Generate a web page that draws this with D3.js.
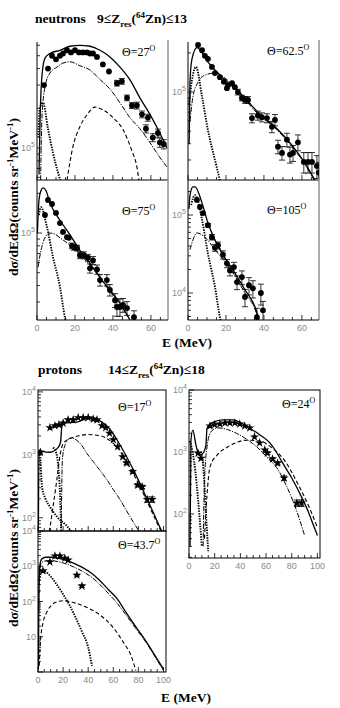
<!DOCTYPE html>
<html>
<head>
<meta charset="utf-8">
<script src="https://cdn.jsdelivr.net/npm/d3@7"></script>
<style>
  body { margin: 0; background: #fff; }
  svg { display: block; }
  .serif { font-family: "Liberation Serif", "Times New Roman", serif; }
  .bold { font-weight: bold; }
  .tk { font-family: "Liberation Sans", Arial, sans-serif; font-size: 9px; fill: #8a8a8a; }
</style>
</head>
<body>
<svg id="fig" width="340" height="708"></svg>
<script>
// ---- data: [E (MeV), dsigma/dEdOmega, relative error] ----
var n27Data = [
  [3.7, 3.0e5, 0.04], [5.8, 4.0e5, 0.03], [7.9, 5.0e5, 0.03], [10, 4.7e5, 0.03], [12.1, 5.0e5, 0.03],
  [13.7, 5.2e5, 0.03], [15.8, 5.5e5, 0.03], [17.9, 5.3e5, 0.03], [20, 5.5e5, 0.03], [22.1, 5.3e5, 0.03],
  [24.2, 5.3e5, 0.03], [26.3, 5.3e5, 0.03], [27.9, 5.2e5, 0.03], [29.5, 5.2e5, 0.03], [31.6, 4.9e5, 0.03],
  [34.7, 4.3e5, 0.04], [37.9, 3.8e5, 0.04], [42.1, 3.1e5, 0.05], [44.7, 3.2e5, 0.05], [47.4, 2.4e5, 0.05],
  [50, 2.1e5, 0.05], [52.6, 2.1e5, 0.06], [55.3, 1.8e5, 0.06], [58.4, 1.7e5, 0.06], [57.4, 1.4e5, 0.07],
  [61, 1.2e5, 0.07], [63.7, 1.3e5, 0.07], [64.7, 1.1e5, 0.08], [66.8, 1.07e5, 0.08]
];
var n27Total = [[1.05, 6.3e4], [1.6, 1.6e5], [2.6, 3.5e5], [4.2, 4.8e5], [6.8, 5.2e5], [12.1, 5.5e5],
  [17.4, 5.9e5], [22.6, 6.0e5], [27.9, 5.9e5], [33.2, 5.5e5], [38.4, 4.9e5], [43.7, 4.1e5],
  [48.9, 3.3e5], [54.2, 2.4e5], [59.5, 1.8e5], [64.7, 1.3e5], [68.4, 1.0e5]];
var n27PreEq = [[1.9, 5.7e4], [2.6, 1.7e5], [4.2, 2.9e5], [6.8, 3.7e5], [10.5, 4.1e5], [13.7, 4.4e5],
  [17.4, 4.5e5], [22.6, 4.2e5], [27.9, 3.9e5], [33.2, 3.3e5], [38.4, 2.8e5], [43.7, 2.2e5],
  [48.9, 1.7e5], [54.2, 1.4e5], [59.5, 1.1e5], [64.7, 8.5e4], [68.4, 7.2e4]];
var n27Evap = [[0.7, 1.2e5], [1.5, 2.0e5], [3.2, 2.2e5], [5.8, 1.4e5], [8.4, 9.2e4], [11.1, 6.5e4], [12.4, 5.6e4]];
var n27Dashed = [[15.8, 5.7e4], [18.9, 1.02e5], [22.6, 1.45e5], [26.3, 1.78e5], [30.5, 2.04e5], [34.7, 1.95e5],
  [40, 1.7e5], [45.3, 1.38e5], [50, 9.5e4], [52.6, 7.2e4], [53.7, 5.7e4]];

var n62Data = [
  [5.3, 2.3e5, 0.03], [7.4, 2.1e5, 0.03], [8.9, 1.9e5, 0.03], [10.5, 1.8e5, 0.03], [12.6, 1.56e5, 0.03],
  [14.2, 1.4e5, 0.03], [16.8, 1.3e5, 0.03], [18.9, 1.2e5, 0.03], [21.1, 1.13e5, 0.04], [20.5, 1.07e5, 0.04],
  [23.2, 1.17e5, 0.04], [24.7, 1.09e5, 0.04], [26.3, 1.0e5, 0.05], [28.4, 9.0e4, 0.05], [30, 8.7e4, 0.06],
  [31.6, 8.7e4, 0.06], [33.7, 6.3e4, 0.08], [36.8, 6.6e4, 0.08], [38.9, 6.4e4, 0.08], [41.6, 6.3e4, 0.08],
  [44.2, 5.4e4, 0.1], [45.8, 6.1e4, 0.1], [47.4, 3.8e4, 0.12], [49.5, 3.4e4, 0.12], [52.1, 4.3e4, 0.12],
  [53.7, 3.3e4, 0.14], [55.3, 3.4e4, 0.14], [57.9, 4.1e4, 0.14], [61, 2.9e4, 0.18], [63.2, 2.9e4, 0.18],
  [65.3, 2.9e4, 0.18], [67.9, 2.7e4, 0.2], [68.9, 2.4e4, 0.2]
];
var n62Total = [[0.6, 4.0e4], [1.05, 1.2e5], [2.1, 1.8e5], [4.7, 2.2e5], [10.5, 1.7e5], [19.5, 1.24e5],
  [28.4, 9.5e4], [36.8, 7.0e4], [45.8, 5.4e4], [54.7, 3.9e4], [63.2, 2.6e4], [66.8, 2.1e4]];
var n62PreEq = [[1.05, 6.0e4], [2.6, 9.2e4], [5.3, 1.19e5], [8.9, 1.35e5], [14.2, 1.4e5], [19.5, 1.28e5],
  [28.4, 9.3e4], [36.8, 6.8e4], [45.8, 5.3e4], [54.7, 3.8e4], [63.2, 2.55e4], [66.8, 2.05e4]];
var n62Evap = [[0.5, 8.0e4], [2.1, 1.24e5], [4.2, 1.56e5], [7.4, 9.2e4], [10.5, 5.1e4], [14.2, 3.0e4], [16.8, 2.1e4]];

var n75Data = [
  [4.2, 1.37e5, 0.03], [5.8, 1.78e5, 0.03], [7.9, 1.66e5, 0.03], [10, 1.42e5, 0.03], [12.1, 1.19e5, 0.03],
  [13.7, 1.02e5, 0.04], [15.8, 9.3e4, 0.04], [16.8, 9.2e4, 0.04], [18.4, 8.0e4, 0.05], [19.5, 7.8e4, 0.05],
  [21.1, 7.7e4, 0.05], [22.6, 6.8e4, 0.06], [24.7, 6.8e4, 0.06], [26.8, 6.5e4, 0.06], [27.9, 5.4e4, 0.08],
  [29.5, 6.2e4, 0.07], [31.6, 5.3e4, 0.08], [33.2, 4.4e4, 0.1], [36.8, 4.4e4, 0.1], [38.4, 3.7e4, 0.1],
  [41.1, 3.1e4, 0.12], [42.1, 2.75e4, 0.15], [43.7, 2.75e4, 0.15], [45.3, 2.85e4, 0.12], [47.4, 2.7e4, 0.12],
  [51.1, 2.3e4, 0.12]
];
var n75Total = [[0.2, 1.0e5], [1.05, 1.78e5], [2.1, 2.1e5], [3.2, 2.2e5], [4.7, 2.1e5], [6.8, 1.7e5],
  [12.1, 1.25e5], [17.4, 9.7e4], [22.6, 7.4e4], [27.9, 5.9e4], [33.2, 4.6e4], [38.4, 3.7e4],
  [43.7, 2.95e4], [48.9, 2.2e4]];
var n75PreEq = [[0.5, 5.5e4], [2.1, 7.4e4], [3.7, 8.9e4], [6.8, 1.0e5], [9.5, 9.8e4], [12.1, 9.2e4],
  [17.4, 8.1e4], [22.6, 6.9e4], [27.9, 5.7e4], [33.2, 4.6e4], [38.4, 3.6e4], [43.7, 2.9e4], [48.9, 2.2e4]];
var n75Evap = [[1, 1.37e5], [2.1, 1.57e5], [5.3, 1.1e5], [8.4, 6.6e4], [12.1, 3.9e4], [14.7, 2.3e4], [15.3, 2.1e4]];

var n105Data = [
  [4.7, 1.56e5, 0.04], [6.3, 1.27e5, 0.04], [7.9, 1.06e5, 0.04], [10.5, 7.4e4, 0.05], [12.6, 5.2e4, 0.08],
  [14.2, 3.8e4, 0.1], [15.8, 4.1e4, 0.1], [18.4, 3.1e4, 0.12], [20.5, 2.4e4, 0.12], [22.1, 1.95e4, 0.15],
  [24.2, 2.15e4, 0.15], [25.8, 1.38e4, 0.2], [28.4, 1.6e4, 0.2], [30, 8.9e3, 0.25], [32.1, 1.26e4, 0.25],
  [34.2, 1.15e4, 0.25], [36.3, 4.9e3, 0.3], [38.4, 1.0e4, 0.3], [39.5, 6.0e3, 0.3]
];
var n105Total = [[0.5, 1.2e5], [1.05, 1.8e5], [2.6, 2.3e5], [3.7, 2.3e5], [7.4, 1.42e5], [10.5, 7.9e4],
  [14.2, 4.8e4], [19.5, 2.8e4], [24.7, 1.8e4], [30, 1.1e4], [35.3, 6.6e3], [37.5, 4.4e3]];
var n105PreEq = [[1.05, 3.6e4], [2.6, 4.8e4], [4.7, 5.9e4], [8.9, 5.2e4], [14.2, 3.6e4], [19.5, 2.5e4],
  [24.7, 1.66e4], [30, 1.0e4], [35.3, 6.2e3], [37.5, 4.3e3]];
var n105Evap = [[1.6, 1.34e5], [3.7, 1.8e5], [7.4, 8.7e4], [10.5, 3.2e4], [14.2, 1.2e4], [16.8, 4.9e3], [17.2, 4.4e3]];

var p17Data = [
  [2, 1100, 0.03], [9.5, 2700, 0.03], [13.5, 2900, 0.03], [16.7, 3000, 0.03], [20, 3200, 0.03], [24, 3600, 0.03],
  [28, 3600, 0.03], [32, 3900, 0.03], [36, 3900, 0.03], [40, 3900, 0.03], [44, 3700, 0.03], [47, 3600, 0.03],
  [51, 2900, 0.03], [54, 2700, 0.03], [57, 2200, 0.03], [60, 1740, 0.03], [63.5, 1350, 0.04], [67.5, 930, 0.04],
  [70.6, 740, 0.05], [75.4, 540, 0.05], [79.4, 330, 0.06], [83, 310, 0.06], [87, 195, 0.1], [91, 195, 0.1]
];
var p17Total = [[0.3, 60], [0.8, 1200], [3, 1150], [9.5, 1100], [15.9, 1300], [18, 1600], [19, 2800], [21, 3200],
  [31, 3300], [41, 3900], [49, 3500], [57, 2600], [64, 1600], [71, 900], [78, 480], [85, 240], [92, 120],
  [98, 65], [101, 50]];
var p17PreEq = [[18.5, 70], [19.5, 900], [22, 1500], [26, 1850], [31, 1700], [35, 1400], [39, 1050], [44, 780],
  [49, 580], [55, 400], [60, 280], [65, 200], [70, 135], [76, 85], [82, 55]];
var p17Dashed = [[9, 60], [12, 150], [15, 400], [18, 1100], [20, 1500], [25, 1800], [30, 1950], [40, 2100],
  [50, 2000], [57, 1700], [64, 1250], [71, 750], [78, 420], [85, 220], [92, 110], [98, 62], [101, 50]];
var p17EvapA = [[0.5, 1100], [1.6, 980], [3.2, 310], [6, 200], [9.5, 150], [15, 105], [23, 74], [27, 60]];
var p17EvapB = [[12, 1300], [14, 1150], [16, 700], [17.5, 250], [18.5, 60]];

var p24Data = [
  [7, 960, 0.04], [9.3, 790, 0.04], [16.3, 2630, 0.03], [20, 2760, 0.03], [24, 2830, 0.03], [28, 2940, 0.03],
  [31.8, 2940, 0.03], [35.7, 2940, 0.03], [39.5, 2830, 0.03], [43.4, 2630, 0.03], [47.3, 2440, 0.03],
  [51, 1750, 0.04], [55, 1400, 0.04], [59, 1080, 0.04], [61, 960, 0.05], [65, 770, 0.05], [69, 660, 0.06],
  [74, 380, 0.08], [84, 150, 0.12], [87.6, 150, 0.12]
];
var p24Total = [[0.8, 30], [1.5, 1550], [3, 2250], [5.4, 1300], [7.8, 890], [10.9, 960], [13.2, 1300], [14, 2400],
  [16.3, 2800], [18.6, 3000], [26.4, 3300], [34, 3300], [47, 2440], [55, 1900], [63, 1400], [68, 1000],
  [73, 660], [80, 380], [86, 220], [92, 120], [97, 65], [100, 45]];
var p24PreEq = [[11, 30], [12, 300], [14, 1200], [17, 2100], [22, 2450], [30, 2300], [37, 2000], [45, 1600],
  [53, 1200], [60, 850], [68, 570], [76, 280], [84, 110], [90, 45]];
var p24Dashed = [[12, 40], [14, 200], [16.3, 570], [22, 900], [30, 1200], [38, 1450], [45, 1550], [55, 1500],
  [65, 1150], [75, 700], [85, 300], [95, 110], [100, 60]];
var p24EvapA = [[0.5, 1500], [2, 1200], [4, 700], [6, 300], [8, 100], [10, 30]];
var p24EvapB = [[9, 1000], [10.5, 800], [12, 300], [13.5, 80], [15, 25]];

var p43Data = [
  [4, 740, 0.04], [9.5, 1320, 0.04], [13.5, 1950, 0.04], [17.5, 1950, 0.04], [21.4, 1700, 0.04],
  [24, 1500, 0.04], [31, 560, 0.06], [35, 275, 0.08]
];
var p43Total = [[0.3, 1.2], [0.8, 300], [1.5, 1100], [3, 1600], [6, 1800], [10, 1800], [16, 1700], [23, 1450],
  [30, 1150], [36, 900], [43, 620], [49, 400], [56, 220], [63, 120], [70, 50], [78, 19], [86, 7.5], [93, 3], [100, 1.2]];
var p43PreEq = [[0.5, 50], [1.2, 600], [2.5, 1200], [5, 1400], [10, 1450], [16, 1350], [23, 1150], [30, 900],
  [36, 700], [43, 480], [49, 310], [56, 170], [63, 90], [70, 42], [78, 17], [86, 7], [93, 2.8], [100, 1.1]];
var p43Evap = [[1, 400], [3, 750], [6, 700], [10, 520], [15, 300], [20, 160], [25, 80], [30, 35], [35, 14],
  [40, 5], [43, 1.5]];
var p43Dashed = [[1, 1.5], [2, 8], [4, 25], [7, 50], [11, 80], [16, 100], [20, 105], [25, 100], [30, 90],
  [40, 65], [50, 40], [60, 18], [68, 7], [74, 3], [78, 1.1]];

var nXTicks = [0, 20, 40, 60];
var pXTicks = [0, 20, 40, 60, 80, 100];

// ---- layout ----
var panels = [
  { id: "n27", box: [37, 42, 168, 180], xMax: 69, yLog: [4.758, 5.803], kind: "n", theta: "27", thetaAt: [122, 56],
    decLabels: [5], xLabels: null, total: n27Total, preeq: n27PreEq, evap: [n27Evap], dashed: n27Dashed, data: n27Data },
  { id: "n62", box: [188, 42, 319, 180], xMax: 69, yLog: [4.323, 5.385], kind: "n", theta: "62.5", thetaAt: [267, 55],
    decLabels: [5], xLabels: null, total: n62Total, preeq: n62PreEq, evap: [n62Evap], dashed: null, data: n62Data },
  { id: "n75", box: [37, 180, 168, 320], xMax: 69, yLog: [4.341, 5.402], kind: "n", theta: "75", thetaAt: [122, 215],
    decLabels: [5], xLabels: nXTicks, total: n75Total, preeq: n75PreEq, evap: [n75Evap], dashed: null, data: n75Data },
  { id: "n105", box: [188, 180, 319, 320], xMax: 69, yLog: [3.654, 5.449], kind: "n", theta: "105", thetaAt: [267, 214],
    decLabels: [4, 5], xLabels: nXTicks, total: n105Total, preeq: n105PreEq, evap: [n105Evap], dashed: null, data: n105Data },
  { id: "p17", box: [38, 390, 166, 531], xMax: 102, yLog: [1.79, 4.03], kind: "p", theta: "17", thetaAt: [118, 411],
    decLabels: [2, 3, 4], xLabels: null, total: p17Total, preeq: p17PreEq, evap: [p17EvapA, p17EvapB], dashed: p17Dashed, data: p17Data },
  { id: "p24", box: [189, 390, 320, 558], xMax: 102, yLog: [1.29, 4.0], kind: "p", theta: "24", thetaAt: [282, 408],
    decLabels: [2, 3, 4], xLabels: pXTicks, total: p24Total, preeq: p24PreEq, evap: [p24EvapA, p24EvapB], dashed: p24Dashed, data: p24Data },
  { id: "p43", box: [38, 531, 166, 672], xMax: 102, yLog: [0, 4], kind: "p", theta: "43.7", thetaAt: [118, 549],
    decLabels: [1, 2, 3, 4], xLabels: pXTicks, total: p43Total, preeq: p43PreEq, evap: [p43Evap], dashed: p43Dashed, data: p43Data }
];

var svg = d3.select("#fig");

function drawPanel(p) {
  var x0 = p.box[0], y0 = p.box[1], x1 = p.box[2], y1 = p.box[3];

  var x = d3.scaleLinear().domain([0, p.xMax]).range([x0, x1]);
  var y = d3.scaleLog()
    .domain([Math.pow(10, p.yLog[0]), Math.pow(10, p.yLog[1])])
    .range([y1, y0]);

  var g = svg.append("g");

  g.append("clipPath")
      .attr("id", "clip-" + p.id)
    .append("rect")
      .attr("x", x0).attr("y", y0)
      .attr("width", x1 - x0).attr("height", y1 - y0);

  // frame
  if (p.kind === "n") {
    g.append("line").attr("x1", x1).attr("x2", x1).attr("y1", y0 - 2).attr("y2", y1)
      .attr("stroke", "#9a9a9a").attr("stroke-width", 1.6);
    g.append("line").attr("x1", x0).attr("x2", x0).attr("y1", y0).attr("y2", y1)
      .attr("stroke", "#000").attr("stroke-width", 1);
    g.append("line").attr("x1", x0).attr("x2", x1).attr("y1", y1).attr("y2", y1)
      .attr("stroke", "#000").attr("stroke-width", 1);
  } else {
    g.append("rect").attr("x", x0).attr("y", y0)
      .attr("width", x1 - x0).attr("height", y1 - y0)
      .attr("fill", "none").attr("stroke", "#000").attr("stroke-width", 1);
  }

  // y ticks (log, inward)
  var lo = Math.floor(p.yLog[0]), hi = Math.ceil(p.yLog[1]);
  for (var n = lo; n <= hi; n++) {
    for (var k = 1; k <= 9; k++) {
      var v = k * Math.pow(10, n);
      var lv = Math.log10(v);
      if (lv < p.yLog[0] - 1e-6 || lv > p.yLog[1] + 1e-6) continue;
      g.append("line")
        .attr("x1", x0).attr("x2", x0 + (k === 1 ? 5 : 3))
        .attr("y1", y(v)).attr("y2", y(v))
        .attr("stroke", "#000").attr("stroke-width", 0.8);
    }
  }

  p.decLabels.forEach(function(e) {
    var t = g.append("text")
      .attr("class", "tk")
      .attr("x", x0 - 2)
      .attr("y", y(Math.pow(10, e)) + 3)
      .attr("text-anchor", "end")
      .text("10");
    if (e !== 1) {
      t.append("tspan").attr("dy", -4).attr("font-size", "7px").text(e);
    }
  });

  // x ticks every 5 MeV, inward
  d3.range(0, p.xMax + 0.01, 5).forEach(function(v) {
    g.append("line")
      .attr("x1", x(v)).attr("x2", x(v))
      .attr("y1", y1).attr("y2", y1 - (v % 20 === 0 ? 5 : 3))
      .attr("stroke", "#000").attr("stroke-width", 0.8);
  });

  if (p.xLabels) {
    g.selectAll(".xl")
      .data(p.xLabels)
      .enter()
      .append("text")
        .attr("class", "tk")
        .attr("x", d => x(d))
        .attr("y", y1 + 11)
        .attr("text-anchor", "middle")
        .text(d => d);
  }

  var line = d3.line()
    .x(d => x(d[0]))
    .y(d => y(Math.max(d[1], 1e-3)))
    .curve(d3.curveMonotoneX);

  var cg = g.append("g").attr("clip-path", "url(#clip-" + p.id + ")");

  function curve(pts, dash, w) {
    if (!pts) return;
    cg.append("path")
      .attr("d", line(pts))
      .attr("fill", "none")
      .attr("stroke", "#000")
      .attr("stroke-width", w)
      .attr("stroke-dasharray", dash);
  }

  p.evap.forEach(c => curve(c, "1.4 1.2", 1.9));
  curve(p.dashed, "4 2.5", 1.1);
  curve(p.preeq, "5 1.3 1.2 1.3", 1.0);
  curve(p.total, null, 1.3);

  // error bars
  var eb = cg.selectAll(".eb")
    .data(p.data)
    .enter()
    .append("g");
  eb.append("line")
    .attr("x1", d => x(d[0])).attr("x2", d => x(d[0]))
    .attr("y1", d => y(d[1] * (1 - d[2]))).attr("y2", d => y(d[1] * (1 + d[2])))
    .attr("stroke", "#000").attr("stroke-width", 0.8);
  eb.filter(d => d[2] > 0.045)
    .selectAll(".cap")
    .data(d => [[d[0], d[1] * (1 - d[2])], [d[0], d[1] * (1 + d[2])]])
    .enter()
    .append("line")
      .attr("x1", d => x(d[0]) - 3).attr("x2", d => x(d[0]) + 3)
      .attr("y1", d => y(d[1])).attr("y2", d => y(d[1]))
      .attr("stroke", "#000").attr("stroke-width", 0.8);

  if (p.kind === "n") {
    cg.selectAll(".pt")
      .data(p.data)
      .enter()
      .append("circle")
        .attr("cx", d => x(d[0]))
        .attr("cy", d => y(d[1]))
        .attr("r", 2.9)
        .attr("fill", "#000");
  } else {
    var star = d3.symbol().type(d3.symbolStar).size(26);
    cg.selectAll(".pt")
      .data(p.data)
      .enter()
      .append("path")
        .attr("d", star)
        .attr("transform", d => "translate(" + x(d[0]) + "," + y(d[1]) + ")")
        .attr("fill", "#000");
  }

  // angle label
  var th = g.append("text")
    .attr("class", "serif")
    .attr("x", p.thetaAt[0])
    .attr("y", p.thetaAt[1])
    .attr("font-size", "12px")
    .text("\u0398=" + p.theta);
  th.append("tspan").attr("dy", -5).attr("font-size", "8px").text("O");
}

panels.forEach(drawPanel);

// ---- titles and axis labels ----
function header(xa, xb, yb, lead, from, to) {
  var t = svg.append("text")
    .attr("class", "serif bold")
    .attr("y", yb)
    .attr("font-size", "13.5px");
  t.append("tspan").attr("x", xa).text(lead);
  t.append("tspan").attr("x", xb).text(from + "\u2264Z");
  t.append("tspan").attr("dy", 4).attr("font-size", "9px").text("res");
  t.append("tspan").attr("dy", -4).text("(");
  t.append("tspan").attr("dy", -5).attr("font-size", "9px").text("64");
  t.append("tspan").attr("dy", 5).text("Zn)\u2264" + to);
}
header(35, 97, 23, "neutrons", "9", "13");
header(38, 108, 374, "protons", "14", "18");

function yTitle(cx, cy) {
  var t = svg.append("text")
    .attr("class", "serif bold")
    .attr("transform", "translate(" + cx + "," + cy + ") rotate(-90)")
    .attr("text-anchor", "middle")
    .attr("font-size", "13.5px");
  t.append("tspan").text("d\u03c3/dEd\u03a9(counts sr");
  t.append("tspan").attr("dy", -5).attr("font-size", "9px").text("-1");
  t.append("tspan").attr("dy", 5).text("MeV");
  t.append("tspan").attr("dy", -5).attr("font-size", "9px").text("-1");
  t.append("tspan").attr("dy", 5).text(")");
}
yTitle(18, 197);
yTitle(18, 548);

svg.append("text")
  .attr("class", "serif bold")
  .attr("x", 187).attr("y", 347)
  .attr("text-anchor", "middle")
  .attr("font-size", "13.5px")
  .text("E (MeV)");

svg.append("text")
  .attr("class", "serif bold")
  .attr("x", 186).attr("y", 702)
  .attr("text-anchor", "middle")
  .attr("font-size", "13.5px")
  .text("E (MeV)");
</script>
</body>
</html>
